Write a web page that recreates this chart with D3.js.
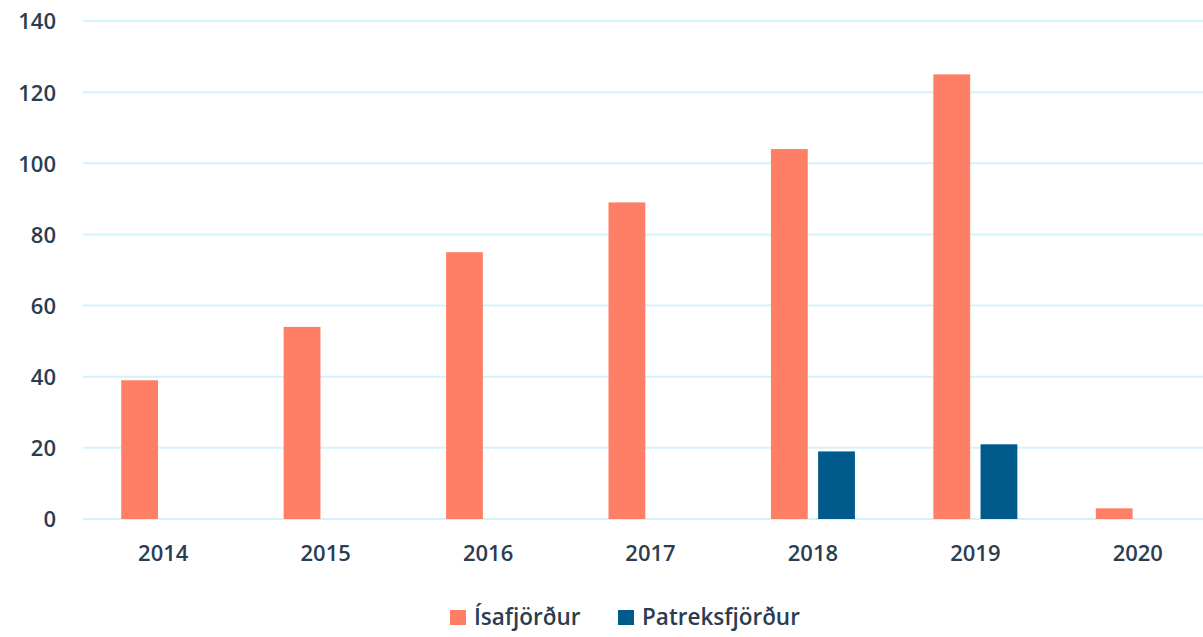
<!DOCTYPE html>
<html>
<head>
<meta charset="utf-8">
<script src="https://cdn.jsdelivr.net/npm/d3@7"></script>
<style>
  body { margin: 0; background: #fff; }
  svg text { font-family: "Open Sans", "Noto Sans", sans-serif; fill: #2a3d51; font-weight: 600; }
</style>
</head>
<body>
<div id="main"></div>
<script>
const years = ["2014", "2015", "2016", "2017", "2018", "2019", "2020"];
const seriesNames = ["Ísafjörður", "Patreksfjörður"];
const isafjordur = [39, 54, 75, 89, 104, 125, 3];
const patreksfjordur = [0, 0, 0, 0, 19, 21, 0];
const yTicks = [0, 20, 40, 60, 80, 100, 120, 140];
const colors = ["#ff7f66", "#005a8c"];

const width = 1203, height = 637;
const margin = { top: 21, right: -16, bottom: 118, left: 82 };

const table = years.map((yr, i) => ({
  year: yr,
  values: [isafjordur[i], patreksfjordur[i]]
}));

const x = d3.scaleBand()
  .domain(years)
  .range([margin.left, width - margin.right])
  .padding(0);

const groupW = 84;
const xs = d3.scaleBand()
  .domain(d3.range(seriesNames.length))
  .range([-groupW / 2, groupW / 2])
  .paddingInner(0.22);

const y = d3.scaleLinear()
  .domain([0, 140])
  .range([height - margin.bottom, margin.top]);

const svg = d3.select("#main").append("svg")
  .attr("width", width)
  .attr("height", height);

// grid
svg.append("g")
  .selectAll("line")
  .data(yTicks)
  .join("line")
  .attr("x1", margin.left + 1)
  .attr("x2", width)
  .attr("y1", d => y(d))
  .attr("y2", d => y(d))
  .attr("stroke", "#d3f3fc")
  .attr("stroke-width", 2);

// y axis
const yAxis = d3.axisLeft(y).tickValues(yTicks).tickSize(0).tickPadding(0);
svg.append("g")
  .attr("transform", "translate(56,0)")
  .call(yAxis)
  .call(g => g.select(".domain").remove())
  .call(g => g.selectAll("text")
    .attr("font-size", 22)
    .attr("dy", "0.36em")
    .attr("font-family", null));

// x axis
const xAxis = d3.axisBottom(x).tickSize(0).tickPadding(0);
svg.append("g")
  .attr("transform", `translate(0,${y(0) + 26})`)
  .call(xAxis)
  .call(g => g.select(".domain").remove())
  .call(g => g.selectAll("text")
    .attr("font-size", 22)
    .attr("dy", "0.71em")
    .attr("font-family", null));

// bars
svg.append("g")
  .selectAll("g")
  .data(table)
  .join("g")
  .attr("transform", d => `translate(${x(d.year) + x.bandwidth() / 2},0)`)
  .selectAll("rect")
  .data(d => d.values.map((v, k) => ({ k, v })).filter(e => e.v > 0))
  .join("rect")
  .attr("x", d => xs(d.k))
  .attr("width", xs.bandwidth())
  .attr("y", d => y(d.v))
  .attr("height", d => y(0) - y(d.v))
  .attr("fill", d => colors[d.k]);

// legend
const legendX = [450, 618];
const legend = svg.append("g")
  .selectAll("g")
  .data(seriesNames)
  .join("g")
  .attr("transform", (d, i) => `translate(${legendX[i]},610)`);
legend.append("rect")
  .attr("width", 16)
  .attr("height", 15)
  .attr("fill", (d, i) => colors[i]);
legend.append("text")
  .attr("x", 24)
  .attr("y", 15)
  .attr("font-size", 22.5)
  .text(d => d);
</script>
</body>
</html>
